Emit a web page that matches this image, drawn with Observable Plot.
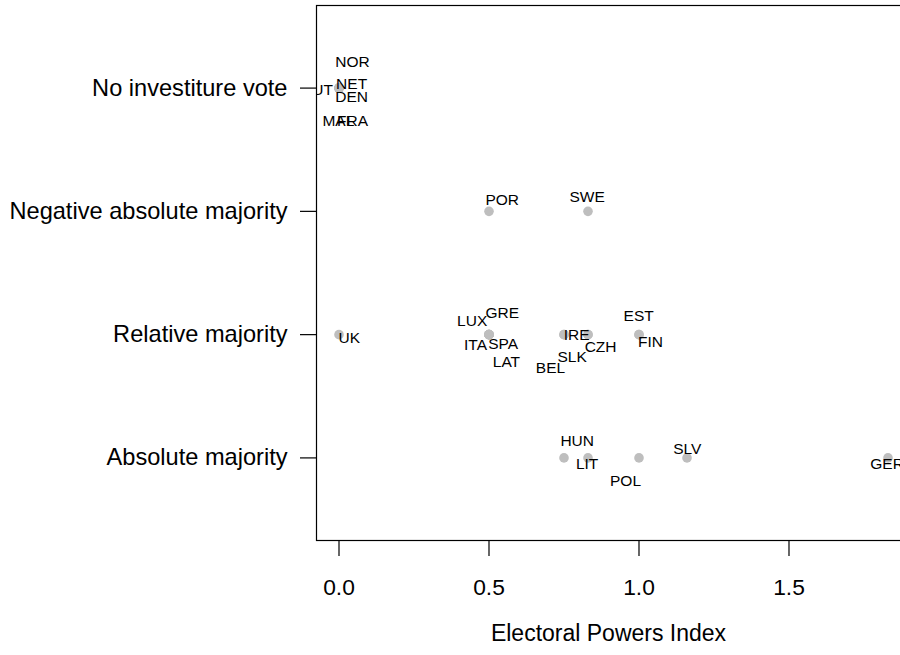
<!DOCTYPE html>
<html>
<head>
<meta charset="utf-8">
<script src="https://cdn.jsdelivr.net/npm/d3@7"></script>
<script src="https://cdn.jsdelivr.net/npm/@observablehq/plot@0.6"></script>
<style>
  html, body { margin: 0; padding: 0; background: white; }
  #chart svg { display: block; }
</style>
</head>
<body>
<div id="chart"></div>
<script>
// Investiture rule categories (bottom to top) -> y levels 1..4
const levels = ["Absolute majority", "Relative majority", "Negative absolute majority", "No investiture vote"];

const countries = ["AUT","DEN","FRA","MAL","NET","NOR","POR","SWE","UK","LUX","GRE","ITA","SPA","LAT","IRE","BEL","CZH","SLK","EST","FIN","HUN","LIT","POL","SLV","GER"];
const investiture = [
  "No investiture vote","No investiture vote","No investiture vote","No investiture vote","No investiture vote","No investiture vote",
  "Negative absolute majority","Negative absolute majority",
  "Relative majority","Relative majority","Relative majority","Relative majority","Relative majority","Relative majority",
  "Relative majority","Relative majority","Relative majority","Relative majority","Relative majority","Relative majority",
  "Absolute majority","Absolute majority","Absolute majority","Absolute majority","Absolute majority"
];
const epi = [0,0,0,0,0,0, 0.5,0.83, 0,0.5,0.5,0.5,0.5,0.5, 0.75,0.75,0.83,0.83,1,1, 0.75,0.83,1,1.16,1.83];

// jittered label coordinates (data units)
const labelX = [-0.072,0.042,0.045,-0.002,0.042,0.045, 0.544,0.827, 0.034,0.444,0.544,0.455,0.547,0.558, 0.792,0.705,0.872,0.777,0.999,1.038, 0.794,0.827,0.955,1.161,1.827];
const labelY = [3.984,3.925,3.736,3.736,4.034,4.209, 3.093,3.114, 1.973,2.114,2.176,1.917,1.925,1.776, 2.0,1.727,1.897,1.816,2.154,1.937, 1.134,0.953,0.809,1.075,0.953];

const xTicks = [0, 0.5, 1, 1.5];
const xTitle = "Electoral Powers Index";

const data = countries.map((c, i) => ({
  country: c,
  level: levels.indexOf(investiture[i]) + 1,
  epi: epi[i],
  lx: labelX[i],
  ly: labelY[i]
}));

const chart = Plot.plot({
  width: 900,
  height: 655,
  marginLeft: 316,
  marginRight: 0,
  marginTop: 5,
  marginBottom: 115,
  style: {
    fontFamily: "'Liberation Sans', Arial, Helvetica, sans-serif",
    fontSize: "22.5px",
    background: "white",
    color: "black"
  },
  x: { domain: [-0.075, 1.8717] },
  y: { domain: [0.33, 4.67] },
  marks: [
    Plot.frame({ stroke: "black", strokeWidth: 1.2, insetRight: -4 }),
    Plot.axisX({
      ticks: xTicks,
      tickFormat: d3.format(".1f"),
      tickSize: 16,
      tickPadding: 22,
      label: null,
      stroke: "black",
      strokeWidth: 1.2,
      fontSize: 22.8
    }),
    Plot.axisY({
      ticks: [1, 2, 3, 4],
      tickFormat: d => levels[d - 1],
      tickSize: 16,
      tickPadding: 13,
      label: null,
      stroke: "black",
      strokeWidth: 1.2,
      fontSize: 23.6
    }),
    Plot.dot(data, { x: "epi", y: "level", r: 4.8, fill: "#bebebe", stroke: "none" }),
    Plot.text(data, {
      x: "lx", y: "ly", text: "country",
      fontSize: 15.5, fill: "black", clip: true
    }),
    Plot.text([xTitle], {
      frameAnchor: "bottom", dy: 100, fontSize: 23, fill: "black"
    })
  ]
});

document.getElementById("chart").appendChild(chart);
</script>
</body>
</html>
